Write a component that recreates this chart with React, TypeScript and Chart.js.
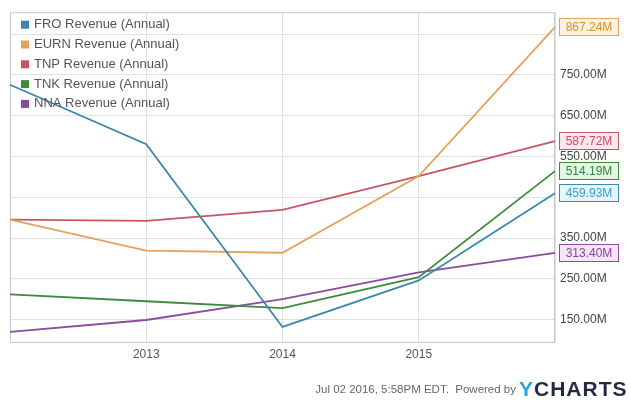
import React, { useEffect, useRef } from "react";
import { Chart, registerables } from "chart.js";

Chart.register(...registerables);

// Fiscal-year boundaries where each annual figure is plotted
const years = [2012, 2013, 2014, 2015, 2016];
const axisTicks = [150, 250, 350, 450, 550, 650, 750, 850];

// Annual revenue, millions USD
const froRevenue = [726, 580, 132, 246, 459.93];
const eurnRevenue = [395, 319, 314, 502, 867.24];
const tnpRevenue = [395, 392, 419, 502, 587.72];
const tnkRevenue = [212, 195, 178, 254, 514.19];
const nnaRevenue = [120, 149, 200, 266, 313.4];

const seriesNames = [
  "FRO Revenue (Annual)",
  "EURN Revenue (Annual)",
  "TNP Revenue (Annual)",
  "TNK Revenue (Annual)",
  "NNA Revenue (Annual)",
];
const seriesValues = [froRevenue, eurnRevenue, tnpRevenue, tnkRevenue, nnaRevenue];
const lineColors = ["#3b87ad", "#e5a25a", "#c85563", "#3d8b3d", "#8a4c9c"];
const tagText = ["#3a9fd2", "#e08f2e", "#d24a62", "#2f8a2f", "#8d3fa0"];
const tagFill = ["#e6f4fb", "#fdf1df", "#fbe7ec", "#e6f4e6", "#f5e7f8"];

const lastValues = seriesValues.map((s) => s[s.length - 1]);
const fmtM = (v: number) => `${v.toFixed(2)}M`;
const FONT = "'Liberation Sans', Arial, sans-serif";

const framePlugin = {
  id: "frame",
  beforeDatasetsDraw(chart: any) {
    const { ctx, chartArea: a } = chart;
    ctx.save();
    ctx.strokeStyle = "#c9c9c9";
    ctx.lineWidth = 1;
    ctx.strokeRect(a.left + 0.5, a.top + 0.5, a.right - a.left - 1, a.bottom - a.top);
    ctx.restore();
  },
};

const legendPlugin = {
  id: "insideLegend",
  afterDatasetsDraw(chart: any) {
    const { ctx, chartArea: a } = chart;
    ctx.save();
    ctx.font = `13px ${FONT}`;
    ctx.textBaseline = "middle";
    chart.data.datasets.forEach((ds: any, i: number) => {
      const y = a.top + 12.5 + i * 19.8;
      ctx.fillStyle = ds.borderColor;
      ctx.fillRect(a.left + 11, y - 4, 8, 8);
      ctx.fillStyle = "#555";
      ctx.fillText(ds.label, a.left + 24, y);
    });
    ctx.restore();
  },
};

const endTagPlugin = {
  id: "endTags",
  afterDraw(chart: any) {
    const { ctx, chartArea: a, scales } = chart;
    ctx.save();
    ctx.font = `12px ${FONT}`;
    ctx.textAlign = "center";
    ctx.textBaseline = "middle";
    chart.data.datasets.forEach((ds: any, i: number) => {
      const v = ds.data[ds.data.length - 1].y;
      const y = Math.round(scales.y.getPixelForValue(v));
      const x = a.right + 4;
      const w = 60;
      const h = 18;
      ctx.fillStyle = tagFill[i];
      ctx.fillRect(x, y - h / 2, w, h);
      ctx.strokeStyle = lineColors[i];
      ctx.lineWidth = 1;
      ctx.strokeRect(x + 0.5, y - h / 2 + 0.5, w - 1, h - 1);
      ctx.fillStyle = tagText[i];
      ctx.fillText(fmtM(v), x + w / 2, y + 0.5);
    });
    ctx.restore();
  },
};

export default function App() {
  const ref = useRef<HTMLCanvasElement | null>(null);

  useEffect(() => {
    if (!ref.current) return;
    const chart = new Chart(ref.current, {
      type: "line",
      data: {
        datasets: seriesValues.map((vals, i) => ({
          label: seriesNames[i],
          data: vals.map((v, k) => ({ x: years[k], y: v })),
          borderColor: lineColors[i],
          backgroundColor: lineColors[i],
          borderWidth: 1.8,
          pointRadius: 0,
          tension: 0,
          clip: false as any,
        })),
      },
      options: {
        responsive: false,
        animation: false,
        devicePixelRatio: 1,
        layout: { padding: { left: 10, top: 10, right: 0, bottom: 42 } },
        plugins: { legend: { display: false }, tooltip: { enabled: false } },
        scales: {
          x: {
            type: "linear",
            min: 2012,
            max: 2016,
            afterFit(s: any) {
              s.height = 24;
            },
            ticks: {
              stepSize: 1,
              padding: 5,
              color: "#555",
              font: { size: 12, family: FONT },
              callback: (v: any) => (v > 2012 && v < 2016 ? String(v) : ""),
            },
            grid: { color: "#e0e0e0", drawTicks: false },
            border: { display: false },
          },
          y: {
            type: "linear",
            position: "right",
            min: 95,
            max: 904,
            afterFit(s: any) {
              s.width = 76;
            },
            afterBuildTicks(s: any) {
              s.ticks = axisTicks.map((v) => ({ value: v }));
            },
            ticks: {
              padding: 5,
              color: "#444",
              font: { size: 12, family: FONT },
              // tick labels sitting under a value tag are left out
              callback: (v: any) =>
                lastValues.some((t) => Math.abs(t - Number(v)) < 25) ? "" : fmtM(Number(v)),
            },
            grid: { color: "#e0e0e0", drawTicks: false },
            border: { display: false },
          },
        },
      },
      plugins: [framePlugin, legendPlugin, endTagPlugin],
    });
    return () => chart.destroy();
  }, []);

  return (
    <div
      style={{
        position: "fixed",
        left: 0,
        top: 0,
        width: 631,
        height: 408,
        background: "#fff",
        fontFamily: FONT,
      }}
    >
      <canvas ref={ref} width={631} height={408} style={{ display: "block" }} />
      <div
        style={{
          position: "absolute",
          right: 115,
          top: 383,
          fontSize: 11.5,
          color: "#666",
          whiteSpace: "nowrap",
        }}
      >
        Jul 02 2016, 5:58PM EDT.&nbsp; Powered by
      </div>
      <div
        style={{
          position: "absolute",
          left: 519,
          top: 377,
          fontSize: 21,
          fontWeight: 700,
          letterSpacing: 1,
          whiteSpace: "nowrap",
        }}
      >
        <span style={{ color: "#2aa4dc" }}>Y</span>
        <span style={{ color: "#1f2a45" }}>CHARTS</span>
      </div>
    </div>
  );
}
